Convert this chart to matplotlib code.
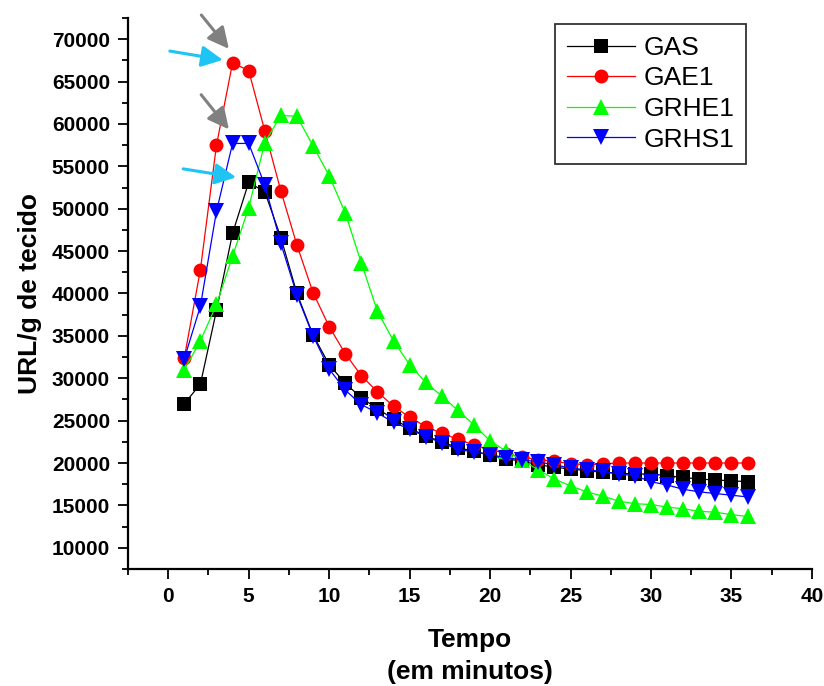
import matplotlib

matplotlib.use("Agg")
import matplotlib.pyplot as plt
from matplotlib.ticker import MultipleLocator

FONT = "Liberation Sans"

tempo = [1, 2, 3, 4, 5, 6, 7, 8, 9, 10, 11, 12, 13, 14, 15, 16, 17, 18,
         19, 20, 21, 22, 23, 24, 25, 26, 27, 28, 29, 30, 31, 32, 33, 34, 35, 36]

gas = [27000, 29300, 38000, 47100, 53100, 52000, 46600, 40000, 35100, 31600,
       29400, 27700, 26400, 25200, 24100, 23200, 22500, 21800, 21400, 20900,
       20500, 20200, 19800, 19500, 19300, 19100, 18900, 18800, 18700, 18700,
       18500, 18300, 18100, 18000, 17900, 17800]

gae1 = [32400, 42800, 57500, 67200, 66300, 59200, 52100, 45700, 40100, 36100,
        32900, 30300, 28400, 26700, 25400, 24300, 23500, 22800, 22100, 21600,
        21100, 20700, 20400, 20200, 19900, 19800, 19900, 20000, 20000, 20000,
        20000, 20000, 20000, 20000, 20000, 20000]

grhe1 = [31000, 34400, 38700, 44400, 50100, 57800, 61000, 60900, 57400, 53900,
         49500, 43600, 37900, 34400, 31600, 29500, 27900, 26200, 24500, 22600,
         21400, 20300, 19200, 18100, 17300, 16600, 16100, 15500, 15200, 15100,
         14800, 14600, 14300, 14200, 13900, 13700]

grhs1 = [32300, 38500, 49700, 57700, 57700, 52800, 45900, 39800, 35000, 31100,
         28600, 26900, 25900, 24800, 24000, 23100, 22400, 21600, 21300, 21000,
         20600, 20400, 20100, 19800, 19400, 19200, 19000, 18700, 18500, 17800,
         17400, 16900, 16600, 16400, 16200, 16000]

series_names = ["GAS", "GAE1", "GRHE1", "GRHS1"]
series_colors = ["#000000", "#ff0000", "#00ff00", "#0000ff"]
series_markers = ["s", "o", "^", "v"]


def main() -> None:
    plt.rcParams["font.family"] = [FONT, "DejaVu Sans"]

    fig = plt.figure(figsize=(8.24, 6.86), dpi=100)
    ax = fig.add_axes([0.1553, 0.1706, 0.8301, 0.8032])

    for values, name, color, marker in zip(
        [gas, gae1, grhe1, grhs1], series_names, series_colors, series_markers
    ):
        size = 10 if marker in ("s", "o") else 11
        ax.plot(
            tempo,
            values,
            color=color,
            marker=marker,
            markersize=size,
            markeredgewidth=0,
            linewidth=0.9,
            label=name,
        )

    # arrows pointing at the peaks
    arrow_gray = dict(arrowstyle="-|>", color="#808080", lw=2.2, mutation_scale=32)
    arrow_cyan = dict(arrowstyle="-|>", color="#1ec4f4", lw=2.2, mutation_scale=32)
    ax.annotate("", xy=(3.88, 68600), xytext=(1.95, 73100), arrowprops=arrow_gray,
                annotation_clip=False)
    ax.annotate("", xy=(3.88, 59100), xytext=(1.94, 63700), arrowprops=arrow_gray)
    ax.annotate("", xy=(3.56, 67500), xytext=(-0.07, 68650), arrowprops=arrow_cyan)
    ax.annotate("", xy=(4.39, 53650), xytext=(0.76, 54750), arrowprops=arrow_cyan)

    ax.set_xlim(-2.5, 40)
    ax.set_ylim(7500, 72500)
    ax.xaxis.set_major_locator(MultipleLocator(5))
    ax.xaxis.set_minor_locator(MultipleLocator(2.5))
    ax.yaxis.set_major_locator(MultipleLocator(5000))
    ax.yaxis.set_minor_locator(MultipleLocator(2500))

    ax.spines["top"].set_visible(False)
    ax.spines["right"].set_visible(False)
    ax.spines["left"].set_linewidth(1.6)
    ax.spines["bottom"].set_linewidth(1.6)

    ax.tick_params(which="major", direction="out", length=7, width=1.3, pad=6,
                   labelsize=15)
    ax.tick_params(which="minor", direction="out", length=4, width=1.3)
    for lbl in ax.get_xticklabels() + ax.get_yticklabels():
        lbl.set_fontweight("bold")

    ax.set_xlabel("Tempo\n(em minutos)", fontsize=19, fontweight="bold",
                  labelpad=16, linespacing=1.4)
    ax.set_ylabel("URL/g de tecido", fontsize=19, fontweight="bold", labelpad=7)

    leg = ax.legend(
        loc="upper left",
        bbox_to_anchor=(0.6735, 0.965),
        bbox_transform=fig.transFigure,
        fontsize=19,
        frameon=True,
        fancybox=False,
        edgecolor="black",
        borderpad=0.45,
        labelspacing=0.25,
        handlelength=2.6,
        handletextpad=0.3,
        borderaxespad=0,
    )
    leg.get_frame().set_linewidth(1.3)

    fig.savefig("out.png", dpi=100)


if __name__ == "__main__":
    main()
